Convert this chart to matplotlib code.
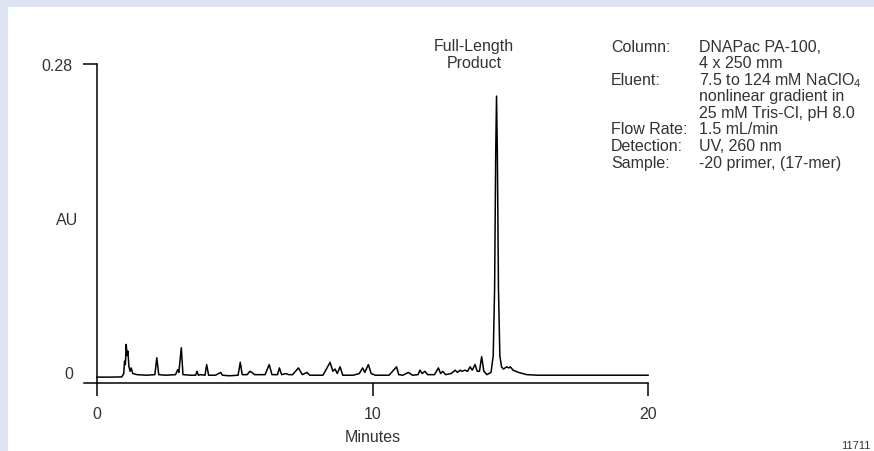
import matplotlib
matplotlib.use('Agg')
import matplotlib.pyplot as plt
from matplotlib.patches import Rectangle
from matplotlib.transforms import ScaledTranslation

plt.rcParams['font.family'] = ['Liberation Sans', 'DejaVu Sans']
plt.rcParams['mathtext.default'] = 'regular'

"""
Data read off the chromatogram (minutes, AU)
"""
time_min = [0.0, 0.5, 0.9, 0.97, 1.00, 1.03, 1.06, 1.09, 1.12, 1.16, 1.20, 1.24, 1.30, 1.45,
            1.8, 2.10, 2.17, 2.24, 2.5, 2.85, 2.93, 2.97, 3.06, 3.12, 3.4, 3.58, 3.63, 3.68,
            3.75, 3.92, 3.98, 4.05, 4.3, 4.49, 4.55, 4.8, 5.12, 5.20, 5.27, 5.45, 5.55, 5.62,
            5.72, 6.1, 6.25, 6.35, 6.55, 6.62, 6.70, 6.86, 6.95, 7.1, 7.31, 7.45, 7.62, 7.72,
            8.2, 8.46, 8.56, 8.64, 8.72, 8.82, 8.92, 9.3, 9.52, 9.64, 9.72, 9.85, 9.95, 10.1,
            10.6, 10.87, 10.95, 11.1, 11.3, 11.45, 11.65, 11.72, 11.8, 11.9, 12.0, 12.25,
            12.39, 12.47, 12.55, 12.65, 12.85, 13.0, 13.08, 13.18, 13.25, 13.35, 13.45, 13.54,
            13.62, 13.72, 13.80, 13.88, 13.96, 14.04, 14.15, 14.3, 14.38, 14.43, 14.47, 14.5,
            14.53, 14.57, 14.62, 14.68, 14.75, 14.87, 14.95, 15.0, 15.1, 15.3, 15.6, 16.0,
            17.0, 18.0, 19.0, 20.0]
absorb_au = [0.0008, 0.0008, 0.001, 0.004, 0.015, 0.012, 0.030, 0.020, 0.024, 0.010, 0.006,
             0.009, 0.004, 0.003, 0.0025, 0.003, 0.018, 0.003, 0.0025, 0.003, 0.0075, 0.005,
             0.027, 0.003, 0.0025, 0.0025, 0.006, 0.0025, 0.003, 0.0025, 0.012, 0.0025, 0.0025,
             0.005, 0.0025, 0.002, 0.0025, 0.014, 0.003, 0.003, 0.006, 0.005, 0.003, 0.003,
             0.012, 0.003, 0.003, 0.009, 0.003, 0.004, 0.003, 0.003, 0.009, 0.003, 0.005,
             0.0025, 0.0025, 0.014, 0.006, 0.008, 0.004, 0.010, 0.0025, 0.0025, 0.004, 0.009,
             0.005, 0.012, 0.004, 0.0025, 0.0025, 0.010, 0.003, 0.0025, 0.005, 0.0025, 0.003,
             0.007, 0.004, 0.006, 0.003, 0.003, 0.009, 0.004, 0.006, 0.003, 0.004, 0.007,
             0.005, 0.007, 0.006, 0.007, 0.006, 0.010, 0.007, 0.012, 0.006, 0.006, 0.019,
             0.006, 0.003, 0.005, 0.02, 0.08, 0.20, 0.2515, 0.20, 0.08, 0.02, 0.010, 0.008,
             0.010, 0.009, 0.010, 0.007, 0.005, 0.003, 0.0025, 0.0025, 0.0025, 0.0025, 0.0025]

x_ticks = [0, 10, 20]
x_ticklabels = ['0', '10', '20']
peak_label = ['Full-Length', 'Product']
cond_keys = ['Column:', '', 'Eluent:', '', '', 'Flow Rate:', 'Detection:', 'Sample:']
cond_vals = ['DNAPac PA-100,', '4 x 250 mm', '7.5 to 124 mM NaClO$_4$',
             'nonlinear gradient in', '25 mM Tris-Cl, pH 8.0', '1.5 mL/min',
             'UV, 260 nm', '-20 primer, (17-mer)']

W, H = 874, 452
txt_col = '#333333'

fig = plt.figure(figsize=(W / 100, H / 100), dpi=100)
fig.patch.set_facecolor('white')
#light frame band on top and left
fig.add_artist(Rectangle((0, 1 - 8 / H), 1, 8 / H, transform=fig.transFigure,
                         facecolor='#dde4ef', edgecolor='none'))
fig.add_artist(Rectangle((0, 0), 8 / W, 1, transform=fig.transFigure,
                         facecolor='#dde4ef', edgecolor='none'))

ax = fig.add_axes([0.09207, 0.1504, 0.6589, 0.7551])
ax.plot(time_min, absorb_au, color='black', lw=1.1, solid_joinstyle='round')
ax.set_xlim(-0.6, 20.3)
ax.set_ylim(-0.00446, 0.30)

for s in ['top', 'right']:
    ax.spines[s].set_visible(False)
ax.spines['left'].set_position(('data', 0))
ax.spines['left'].set_bounds(-0.00446, 0.28)
ax.spines['bottom'].set_bounds(-0.47, 20)
for s in ['left', 'bottom']:
    ax.spines[s].set_linewidth(1.1)

ax.set_xticks(x_ticks)
ax.set_xticklabels(x_ticklabels)
ax.tick_params(axis='x', direction='out', length=9.4, width=1.1, pad=7,
               labelsize=11.5, labelcolor=txt_col)
ax.set_yticks([0.28])
ax.set_yticklabels(['0.28'])
ax.set_yticks([0], minor=True)
ax.set_yticklabels(['0'], minor=True)
ax.tick_params(axis='y', which='major', direction='out', length=10.1, width=1.1, pad=7.2,
               labelsize=11.5, labelcolor=txt_col)
ax.tick_params(axis='y', which='minor', length=0, pad=17.3, labelsize=11.5,
               labelcolor=txt_col)
for lab in ax.yaxis.get_minorticklabels():
    lab.set_transform(lab.get_transform() + ScaledTranslation(0, 6 / 100, fig.dpi_scale_trans))

def fx(px):
    return px / W

def fy(py):
    return 1 - py / H

fig.text(fx(67), fy(221), 'AU', ha='center', va='center', fontsize=11.5, color=txt_col)
fig.text(fx(373), fy(438), 'Minutes', ha='center', va='center', fontsize=11.5, color=txt_col)
fig.text(fx(856), fy(451), '11711', ha='center', va='bottom', fontsize=8, color=txt_col)

for i, line in enumerate(peak_label):
    fig.text(fx(474), fy(47 + 16.6 * i), line, ha='center', va='center',
             fontsize=11.5, color=txt_col)
for i, (k, v) in enumerate(zip(cond_keys, cond_vals)):
    y = fy(47 + 16.6 * i)
    if k:
        fig.text(fx(611), y, k, ha='left', va='center', fontsize=11.5, color=txt_col)
    fig.text(fx(699), y, v, ha='left', va='center', fontsize=11.5, color=txt_col)

fig.savefig('out.png', dpi=100)
